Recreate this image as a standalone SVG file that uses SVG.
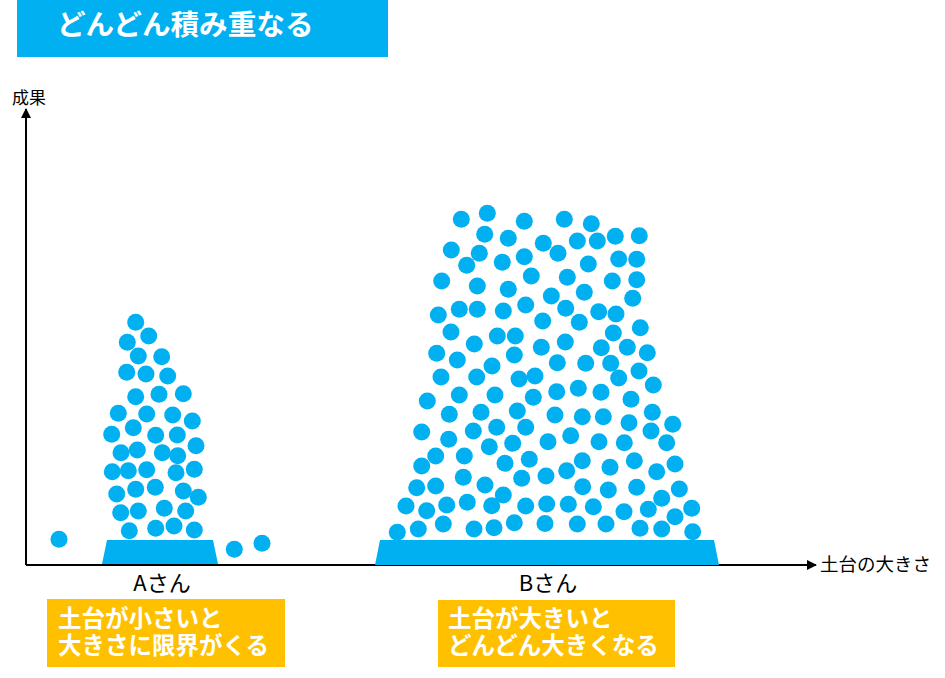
<svg xmlns="http://www.w3.org/2000/svg" width="945" height="678" viewBox="0 0 945 678">
<style>
.b{fill:#00B0F0}
.t{font-family:"Noto Sans CJK JP","Noto Sans",sans-serif}
.y{font-family:"Liberation Sans","Noto Sans CJK JP",sans-serif}
.w{fill:#fff;font-weight:bold}
.ax{stroke:#000;stroke-width:2;fill:none}
</style>
<defs>
<marker id="arr" viewBox="0 0 10 10" refX="9" refY="5" markerWidth="5" markerHeight="5" orient="auto"><path d="M0,0 L10,5 L0,10 z" fill="#000"/></marker>
</defs>
<rect width="945" height="678" fill="#fff"/>
<g id="title">
<rect x="17" y="0" width="371" height="57" class="b"/>
<text x="57" y="35" class="t w" font-size="28.6">どんどん積み重なる</text>
</g>
<g id="axes">
<line x1="26" y1="565" x2="26" y2="109" class="ax" marker-end="url(#arr)"/>
<line x1="26" y1="565" x2="816" y2="565" class="ax" marker-end="url(#arr)"/>
<text x="12" y="104" class="t" font-size="17">成果</text>
<text x="820" y="571" class="t" font-size="18.5">土台の大きさ</text>
</g>
<g id="pileA" class="b">
<polygon points="107,540 213,540 218,564 102,564"/>
<circle cx="135.7" cy="322.3" r="8.5"/><circle cx="148.7" cy="336" r="8.5"/><circle cx="127.3" cy="342.3" r="8.5"/>
<circle cx="138.3" cy="356" r="8.5"/><circle cx="161.7" cy="356.7" r="8.5"/><circle cx="126.7" cy="372.3" r="8.5"/>
<circle cx="146" cy="374" r="8.5"/><circle cx="167.7" cy="376" r="8.5"/><circle cx="135.7" cy="396.7" r="8.5"/>
<circle cx="159" cy="394.3" r="8.5"/><circle cx="183.3" cy="393.7" r="8.5"/><circle cx="118.3" cy="413.3" r="8.5"/>
<circle cx="146.7" cy="414" r="8.5"/><circle cx="172.7" cy="415" r="8.5"/><circle cx="192.3" cy="421" r="8.5"/>
<circle cx="133.3" cy="427.7" r="8.5"/><circle cx="111.7" cy="434.3" r="8.5"/><circle cx="155.7" cy="435.3" r="8.5"/>
<circle cx="177.3" cy="435" r="8.5"/><circle cx="196" cy="445.7" r="8.5"/><circle cx="137.3" cy="450" r="8.5"/>
<circle cx="121" cy="452.7" r="8.5"/><circle cx="162.3" cy="452.7" r="8.5"/><circle cx="177.7" cy="455.7" r="8.5"/>
<circle cx="112.3" cy="471.7" r="8.5"/><circle cx="128.3" cy="470.7" r="8.5"/><circle cx="146.7" cy="469.7" r="8.5"/>
<circle cx="176" cy="472.7" r="8.5"/><circle cx="194.3" cy="469.3" r="8.5"/><circle cx="135.7" cy="489.3" r="8.5"/>
<circle cx="155.3" cy="487.3" r="8.5"/><circle cx="116.7" cy="494" r="8.5"/><circle cx="183.3" cy="491" r="8.5"/>
<circle cx="198.3" cy="497.3" r="8.5"/><circle cx="138.3" cy="511" r="8.5"/><circle cx="120.7" cy="512.7" r="8.5"/>
<circle cx="164.3" cy="508.3" r="8.5"/><circle cx="185.7" cy="511" r="8.5"/><circle cx="129.3" cy="530.7" r="8.5"/>
<circle cx="155.7" cy="528.3" r="8.5"/><circle cx="174" cy="526" r="8.5"/><circle cx="194.3" cy="530" r="8.5"/>
<circle cx="59" cy="539.3" r="8.5"/><circle cx="234.3" cy="549.3" r="8.5"/><circle cx="262" cy="543.3" r="8.5"/>
</g>
<g id="pileB" class="b">
<polygon points="380,540 714,540 719,565 375,565"/>
<circle cx="461.3" cy="219.3" r="8.5"/><circle cx="487.3" cy="213.3" r="8.5"/><circle cx="524.3" cy="221.3" r="8.5"/>
<circle cx="564.3" cy="219.3" r="8.5"/><circle cx="591.3" cy="223.7" r="8.5"/>
<circle cx="484.7" cy="234.3" r="8.5"/><circle cx="508.3" cy="238.3" r="8.5"/><circle cx="543.3" cy="243.3" r="8.5"/>
<circle cx="577.3" cy="241" r="8.5"/><circle cx="597.3" cy="241" r="8.5"/><circle cx="615.3" cy="236.3" r="8.5"/><circle cx="639.3" cy="235.7" r="8.5"/>
<circle cx="451.3" cy="250" r="8.5"/><circle cx="479.3" cy="253.3" r="8.5"/><circle cx="466.7" cy="265.3" r="8.5"/>
<circle cx="502.3" cy="262.3" r="8.5"/><circle cx="524.3" cy="256.7" r="8.5"/><circle cx="558" cy="253.3" r="8.5"/>
<circle cx="588.3" cy="264" r="8.5"/><circle cx="618.7" cy="259" r="8.5"/><circle cx="636.7" cy="259.3" r="8.5"/>
<circle cx="441.7" cy="281" r="8.5"/><circle cx="477.3" cy="286" r="8.5"/><circle cx="508.3" cy="289.3" r="8.5"/>
<circle cx="531.3" cy="276" r="8.5"/><circle cx="567.3" cy="277.3" r="8.5"/><circle cx="612.3" cy="281" r="8.5"/><circle cx="636.7" cy="279.7" r="8.5"/>
<circle cx="551.3" cy="296" r="8.5"/><circle cx="584.3" cy="292.3" r="8.5"/><circle cx="632.7" cy="298.3" r="8.5"/>
<circle cx="459.3" cy="309.3" r="8.5"/><circle cx="477.3" cy="309.3" r="8.5"/><circle cx="438.3" cy="315" r="8.5"/>
<circle cx="503.3" cy="311" r="8.5"/><circle cx="525.7" cy="305" r="8.5"/><circle cx="565.7" cy="308.3" r="8.5"/>
<circle cx="598.7" cy="311.7" r="8.5"/><circle cx="616" cy="314" r="8.5"/>
<circle cx="542.7" cy="321" r="8.5"/><circle cx="579.3" cy="322.3" r="8.5"/><circle cx="640.3" cy="327.7" r="8.5"/>
<circle cx="451" cy="332" r="8.5"/><circle cx="474.3" cy="344" r="8.5"/><circle cx="497.3" cy="336" r="8.5"/>
<circle cx="515.3" cy="336" r="8.5"/><circle cx="613.3" cy="333" r="8.5"/>
<circle cx="436.7" cy="353.3" r="8.5"/><circle cx="457.3" cy="360" r="8.5"/><circle cx="514.3" cy="355" r="8.5"/>
<circle cx="541.3" cy="347.3" r="8.5"/><circle cx="565.3" cy="342" r="8.5"/><circle cx="601.3" cy="347.7" r="8.5"/>
<circle cx="627.3" cy="347.3" r="8.5"/><circle cx="647.3" cy="352.7" r="8.5"/>
<circle cx="492" cy="366" r="8.5"/><circle cx="557.3" cy="362.7" r="8.5"/><circle cx="585.7" cy="363.3" r="8.5"/>
<circle cx="610.7" cy="363.3" r="8.5"/><circle cx="639" cy="371" r="8.5"/>
<circle cx="441" cy="377" r="8.5"/><circle cx="476.7" cy="377" r="8.5"/><circle cx="519" cy="379" r="8.5"/>
<circle cx="535" cy="376" r="8.5"/><circle cx="618.7" cy="378" r="8.5"/><circle cx="653.3" cy="385" r="8.5"/>
<circle cx="427.3" cy="401" r="8.5"/><circle cx="459.3" cy="395" r="8.5"/><circle cx="495" cy="395" r="8.5"/>
<circle cx="533.3" cy="397.3" r="8.5"/><circle cx="556.7" cy="391.7" r="8.5"/><circle cx="578.3" cy="388.3" r="8.5"/>
<circle cx="601" cy="392.3" r="8.5"/><circle cx="631" cy="399.3" r="8.5"/>
<circle cx="449.3" cy="414.3" r="8.5"/><circle cx="481" cy="412.3" r="8.5"/><circle cx="517.3" cy="411" r="8.5"/>
<circle cx="555" cy="415" r="8.5"/><circle cx="582.3" cy="416.7" r="8.5"/><circle cx="603.3" cy="416.7" r="8.5"/>
<circle cx="629" cy="422.7" r="8.5"/><circle cx="652.3" cy="412.3" r="8.5"/>
<circle cx="421.7" cy="432" r="8.5"/><circle cx="473.3" cy="431" r="8.5"/><circle cx="496.7" cy="427.3" r="8.5"/>
<circle cx="525.7" cy="427.3" r="8.5"/><circle cx="651" cy="431" r="8.5"/><circle cx="672.7" cy="424.3" r="8.5"/>
<circle cx="448.7" cy="439.3" r="8.5"/><circle cx="489.3" cy="446.7" r="8.5"/><circle cx="512.7" cy="443.3" r="8.5"/>
<circle cx="548" cy="441.7" r="8.5"/><circle cx="570.7" cy="435.7" r="8.5"/><circle cx="599" cy="441.7" r="8.5"/>
<circle cx="624.3" cy="442.7" r="8.5"/><circle cx="666.7" cy="442.7" r="8.5"/>
<circle cx="435.7" cy="456" r="8.5"/><circle cx="464.3" cy="456" r="8.5"/><circle cx="505" cy="463.3" r="8.5"/>
<circle cx="529.3" cy="459.3" r="8.5"/><circle cx="582.3" cy="460.7" r="8.5"/><circle cx="634.3" cy="460.7" r="8.5"/>
<circle cx="675" cy="464" r="8.5"/>
<circle cx="421.7" cy="466" r="8.5"/><circle cx="463.3" cy="477.3" r="8.5"/><circle cx="521.7" cy="478.3" r="8.5"/>
<circle cx="546" cy="476" r="8.5"/><circle cx="566.7" cy="470.7" r="8.5"/><circle cx="610" cy="467.3" r="8.5"/>
<circle cx="656.7" cy="471.7" r="8.5"/>
<circle cx="416.7" cy="487.7" r="8.5"/><circle cx="435.7" cy="486" r="8.5"/><circle cx="485" cy="485" r="8.5"/>
<circle cx="503.3" cy="495" r="8.5"/><circle cx="582.7" cy="486.7" r="8.5"/><circle cx="608.3" cy="490" r="8.5"/>
<circle cx="636.7" cy="487.3" r="8.5"/><circle cx="679.3" cy="489" r="8.5"/><circle cx="661.7" cy="498.3" r="8.5"/>
<circle cx="406" cy="506" r="8.5"/><circle cx="426.7" cy="510.7" r="8.5"/><circle cx="446.7" cy="505" r="8.5"/>
<circle cx="467.3" cy="502.3" r="8.5"/><circle cx="491.7" cy="505.7" r="8.5"/><circle cx="525.7" cy="506" r="8.5"/>
<circle cx="546.7" cy="504" r="8.5"/><circle cx="568.3" cy="504.3" r="8.5"/><circle cx="593.3" cy="506.7" r="8.5"/>
<circle cx="624" cy="511.7" r="8.5"/><circle cx="648.3" cy="509.3" r="8.5"/><circle cx="675" cy="516.7" r="8.5"/>
<circle cx="691.7" cy="508.3" r="8.5"/>
<circle cx="397.3" cy="532.3" r="8.5"/><circle cx="418.3" cy="529" r="8.5"/><circle cx="443.3" cy="524" r="8.5"/>
<circle cx="474" cy="529" r="8.5"/><circle cx="494" cy="527.7" r="8.5"/><circle cx="514.3" cy="522.7" r="8.5"/>
<circle cx="545" cy="523.5" r="8.5"/><circle cx="577.3" cy="524" r="8.5"/><circle cx="606" cy="524" r="8.5"/>
<circle cx="640" cy="528.3" r="8.5"/><circle cx="661.7" cy="529" r="8.5"/><circle cx="692.7" cy="531.7" r="8.5"/>
</g>
<g id="labelA">
<text x="162" y="591" class="t" font-size="22" text-anchor="middle">Aさん</text>
<rect x="47" y="599" width="238" height="68" fill="#FFC000"/>
<text class="y w" font-size="23.5"><tspan x="58" y="627">土台が小さいと</tspan><tspan x="58" y="654">大きさに限界がくる</tspan></text>
</g>
<g id="labelB">
<text x="548" y="591" class="t" font-size="22" text-anchor="middle">Bさん</text>
<rect x="438" y="600" width="237" height="67" fill="#FFC000"/>
<text class="y w" font-size="23.5"><tspan x="448" y="627">土台が大きいと</tspan><tspan x="448" y="654">どんどん大きくなる</tspan></text>
</g>
</svg>
